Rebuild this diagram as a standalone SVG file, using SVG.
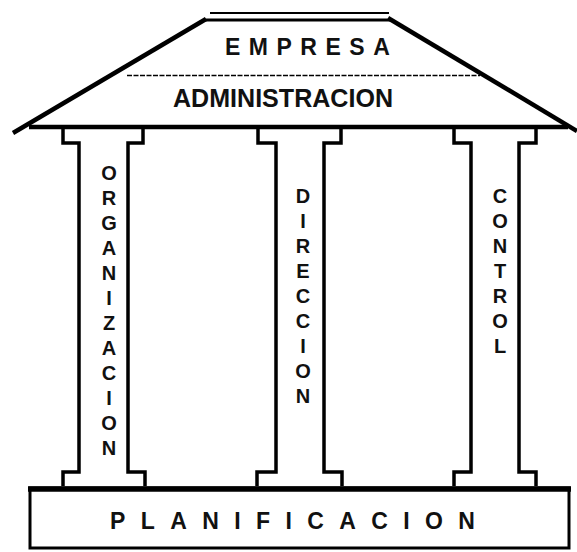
<svg xmlns="http://www.w3.org/2000/svg" width="577" height="552" viewBox="0 0 577 552">
<style>
.ln{stroke:#000;fill:none;stroke-linecap:butt;stroke-linejoin:miter}
.col{stroke:#000;stroke-width:3.5;fill:#fff}
.t{font-family:"Liberation Sans",Arial,sans-serif;font-weight:bold;fill:#111}
.v{font-size:20px;text-anchor:middle}
</style>
<rect width="577" height="552" fill="#fff"/>
<g id="roof">
<line class="ln" x1="210" y1="13" x2="389" y2="13" stroke-width="2"/>
<line class="ln" x1="204" y1="20" x2="390" y2="20" stroke-width="3"/>
<line class="ln" x1="13" y1="133" x2="206" y2="19" stroke-width="4.5"/>
<line class="ln" x1="388" y1="18" x2="577" y2="131" stroke-width="4.5"/>
<line class="ln" x1="29" y1="127" x2="568" y2="127" stroke-width="4.5"/>
<line class="ln" x1="127" y1="75.5" x2="480" y2="75.5" stroke-width="1.3" stroke-dasharray="5 1.5" stroke="#333"/>
<text class="t" x="225" y="55" font-size="23" letter-spacing="8.5">EMPRESA</text>
<text class="t" x="173" y="107" font-size="26" textLength="220" lengthAdjust="spacingAndGlyphs">ADMINISTRACION</text>
</g>
<g id="col-organizacion">
<path class="col" d="M63,129 V143 H79 V472 H63 V486 M143,129 V143 H128 V472 H145 V486"/>
<text class="t v" x="109 109 109 109 109 109 109 109 109 109 109 109" y="180 205 230 255 280 305 330 355 380 405 430 455">ORGANIZACION</text>
</g>
<g id="col-direccion">
<path class="col" d="M258,129 V143 H276 V472 H257 V486 M341,129 V143 H324 V472 H342 V486"/>
<text class="t v" x="303 303 303 303 303 303 303 303 303" y="203 228 253 278 303 328 353 378 403">DIRECCION</text>
</g>
<g id="col-control">
<path class="col" d="M454,129 V143 H471 V472 H454 V486 M536,129 V143 H519 V472 H536 V486"/>
<text class="t v" x="500 500 500 500 500 500 500" y="203 228 253 278 303 328 353">CONTROL</text>
</g>
<g id="base">
<rect x="30" y="488" width="539" height="60" fill="#fff" stroke="#000" stroke-width="3"/>
<line class="ln" x1="28" y1="489" x2="571" y2="489" stroke-width="5.5"/>
<text class="t" x="110" y="529" font-size="23" letter-spacing="15.4">PLANIFICACION</text>
</g>
</svg>
